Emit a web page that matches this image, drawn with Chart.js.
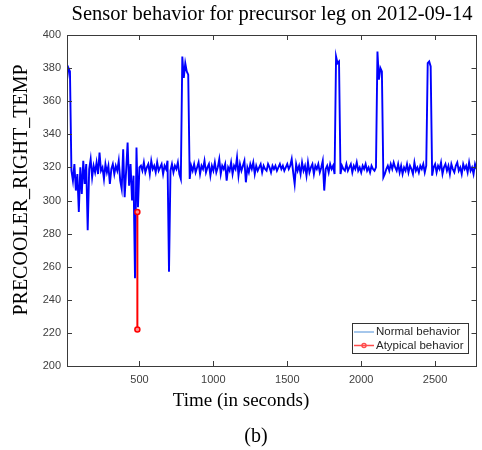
<!DOCTYPE html>
<html>
<head>
<meta charset="utf-8">
<script src="https://cdn.jsdelivr.net/npm/chart.js@4.4.1/dist/chart.umd.min.js"></script>
<style>
    html, body { margin: 0; padding: 0; background: #fff; }
</style>
</head>
<body>
<canvas id="myChart" width="482" height="450"></canvas>
<script>
// sampling of the normal series (seconds)
const startTime = 10;
const timeStep = 10;

// PRECOOLER_RIGHT_TEMP, one value every 10 s from t = 10 to t = 2780
const normalTemp = [
    373, 380, 378, 318, 312, 322, 306, 316, 293, 320,
    304, 324, 310, 322, 282, 319, 325, 314, 321, 317,
    323, 316, 329, 318, 320, 313, 322, 317, 321, 310,
    319, 322, 316, 321, 318, 324, 312, 307, 331, 302,
    318, 335, 309, 322, 300, 315, 253, 332, 296, 320,
    321, 318, 323, 317, 320, 322, 316, 324, 319, 321,
    317, 323, 318, 320, 322, 316, 321, 319, 324, 257,
    318, 322, 317, 321, 319, 323, 316, 313, 387, 374,
    383, 378, 376, 313, 321, 318, 322, 317, 320, 323,
    316, 321, 319, 324, 317, 320, 322, 315, 321, 318,
    323, 317, 320, 325, 316, 321, 319, 322, 312, 320,
    318, 323, 316, 321, 319, 326, 315, 322, 318, 321,
    324, 311, 320, 317, 322, 319, 323, 316, 321, 318,
    320, 322, 317, 321, 319, 318, 322, 320, 317, 321,
    319, 321, 318, 320, 322, 319, 321, 318, 320, 322,
    319, 321, 325, 317, 310, 322, 318, 321, 316, 323,
    318, 321, 315, 323, 317, 320, 322, 316, 321, 319,
    322, 317, 320, 324, 306, 319, 321, 317, 322, 319,
    321, 316, 387, 383, 384, 316, 321, 319, 318, 322,
    318, 320, 322, 317, 321, 319, 323, 318, 320, 317,
    321, 319, 322, 318, 320, 317, 321, 319, 318, 320,
    390, 373, 380, 378, 314, 316, 319, 321, 318, 322,
    319, 323, 320, 318, 322, 317, 321, 316, 320, 318,
    322, 317, 321, 319, 316, 323, 318, 320, 317, 321,
    319, 322, 317, 321, 383, 384, 381, 315, 320, 322,
    317, 321, 319, 323, 316, 320, 322, 318, 321, 316,
    322, 319, 317, 321, 323, 318, 320, 316, 322, 319,
    321, 317, 323, 318, 320, 316, 322, 319
];

const atypicalTime = [486, 486];
const atypicalTemp = [293, 222];

const xTicks = [500, 1000, 1500, 2000, 2500];
const yTicks = [200, 220, 240, 260, 280, 300, 320, 340, 360, 380, 400];

const normalData = normalTemp.map((v, i) => ({ x: startTime + i * timeStep, y: v }));
const atypicalData = atypicalTime.map((t, i) => ({ x: t, y: atypicalTemp[i] }));

const serif = '"Liberation Serif", "Times New Roman", serif';
const sans = '"Liberation Sans", Arial, sans-serif';

// box, inner ticks, titles and legend drawn the MATLAB way
const matlabFrame = {
    id: 'matlabFrame',
    afterDraw(chart) {
        const ctx = chart.ctx;
        const a = chart.chartArea;
        const xs = chart.scales.x;
        const ys = chart.scales.y;
        const tl = 5;

        ctx.save();
        ctx.strokeStyle = '#3a3a3a';
        ctx.lineWidth = 1;
        ctx.strokeRect(Math.round(a.left) + 0.5, Math.round(a.top) + 0.5,
            Math.round(a.right - a.left) - 1, Math.round(a.bottom - a.top));

        ctx.beginPath();
        xTicks.forEach(v => {
            const px = Math.round(xs.getPixelForValue(v)) + 0.5;
            ctx.moveTo(px, a.bottom); ctx.lineTo(px, a.bottom - tl);
            ctx.moveTo(px, a.top); ctx.lineTo(px, a.top + tl);
        });
        yTicks.forEach(v => {
            const py = Math.round(ys.getPixelForValue(v)) + 0.5;
            ctx.moveTo(a.left, py); ctx.lineTo(a.left + tl, py);
            ctx.moveTo(a.right, py); ctx.lineTo(a.right - tl, py);
        });
        ctx.stroke();

        // titles
        ctx.fillStyle = '#000';
        ctx.textAlign = 'center';
        ctx.textBaseline = 'middle';
        ctx.font = '20.5px ' + serif;
        ctx.fillText('Sensor behavior for precursor leg on 2012-09-14', 272, 15);
        ctx.font = '19px ' + serif;
        ctx.fillText('Time (in seconds)', 241, 401);
        ctx.font = '20px ' + serif;
        ctx.fillText('(b)', 256, 437);

        ctx.save();
        ctx.translate(22, 190);
        ctx.rotate(-Math.PI / 2);
        ctx.font = '20px ' + serif;
        ctx.fillText('PRECOOLER_RIGHT_TEMP', 0, 0);
        ctx.restore();

        // legend
        const lx = 352.5, ly = 323.5, lw = 116, lh = 30;
        ctx.fillStyle = '#fff';
        ctx.fillRect(lx, ly, lw, lh);
        ctx.strokeStyle = '#333';
        ctx.strokeRect(lx, ly, lw, lh);

        ctx.lineWidth = 1;
        ctx.strokeStyle = '#4d8fd8';
        ctx.beginPath(); ctx.moveTo(354, 332); ctx.lineTo(374, 332); ctx.stroke();

        ctx.lineWidth = 1.5;
        ctx.strokeStyle = '#ff4d4d';
        ctx.beginPath(); ctx.moveTo(354, 345.5); ctx.lineTo(374, 345.5); ctx.stroke();
        ctx.beginPath(); ctx.arc(364, 345.5, 2, 0, Math.PI * 2); ctx.stroke();

        ctx.fillStyle = '#262626';
        ctx.textAlign = 'left';
        ctx.font = '11.5px ' + sans;
        ctx.fillText('Normal behavior', 376, 332);
        ctx.fillText('Atypical behavior', 376, 346);
        ctx.restore();
    }
};

let myChart = new Chart(document.getElementById('myChart'), {
    type: 'line',
    data: {
        datasets: [{
            label: 'Atypical behavior',
            data: atypicalData,
            borderColor: '#ff0000',
            borderWidth: 2,
            pointRadius: 2.5,
            pointBorderWidth: 1.5,
            pointBorderColor: '#ff0000',
            pointBackgroundColor: '#ff9090',
            order: 0
        }, {
            label: 'Normal behavior',
            data: normalData,
            borderColor: '#0000ff',
            borderWidth: 1.9,
            pointRadius: 0,
            tension: 0,
            order: 1
        }]
    },
    options: {
        responsive: false,
        animation: false,
        devicePixelRatio: 1,
        layout: {
            padding: { top: 35, right: 1, left: 0, bottom: 0 }
        },
        plugins: {
            legend: { display: false },
            title: { display: false },
            tooltip: { enabled: false }
        },
        scales: {
            x: {
                type: 'linear',
                min: 10,
                max: 2780,
                grid: { display: false, drawTicks: false },
                border: { display: false },
                afterBuildTicks: s => { s.ticks = xTicks.map(v => ({ value: v })); },
                afterFit: s => { s.height = 84; },
                ticks: {
                    padding: 7,
                    color: '#404040',
                    font: { family: sans, size: 11 },
                    callback: v => String(v)
                }
            },
            y: {
                min: 200,
                max: 400,
                grid: { display: false, drawTicks: false },
                border: { display: false },
                afterBuildTicks: s => { s.ticks = yTicks.map(v => ({ value: v })); },
                afterFit: s => { s.width = 67; },
                ticks: {
                    padding: 6,
                    color: '#404040',
                    font: { family: sans, size: 11 },
                    callback: v => String(v)
                }
            }
        }
    },
    plugins: [matlabFrame]
});
</script>
</body>
</html>
